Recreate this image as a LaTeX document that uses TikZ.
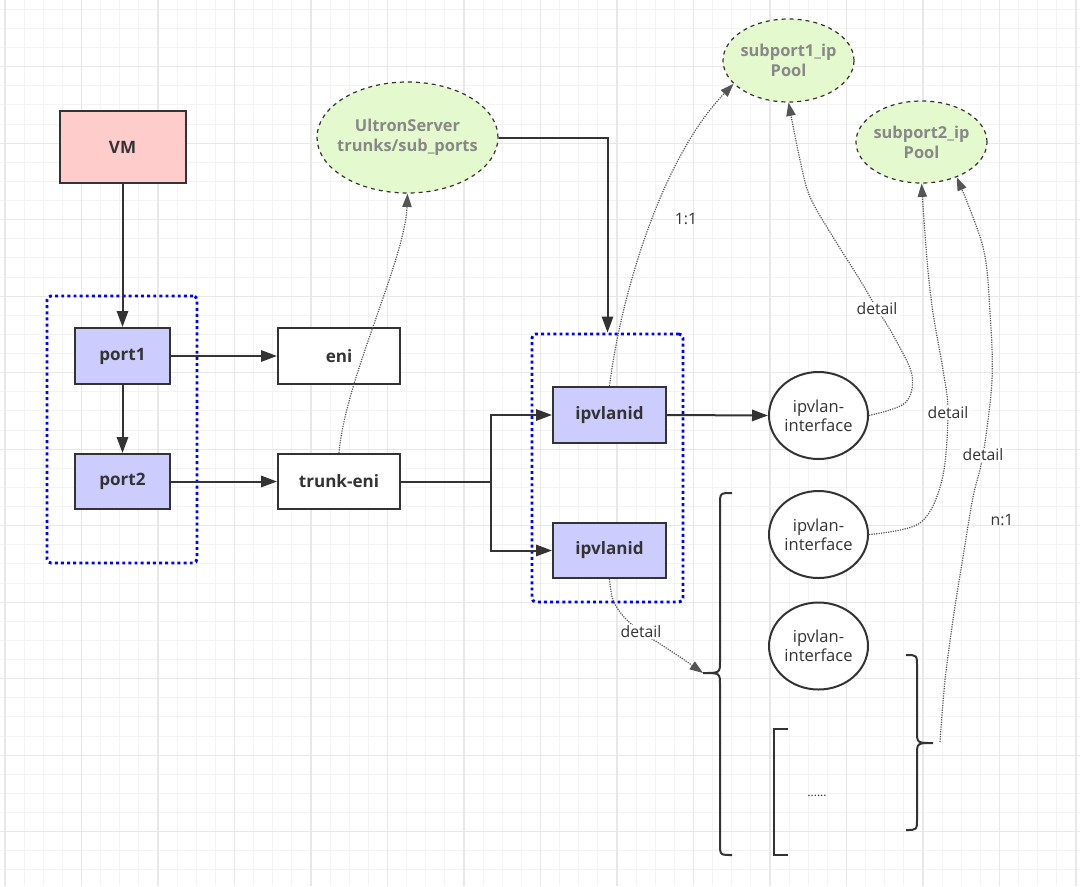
\documentclass[tikz,border=0pt]{standalone}
\usepackage{fontspec}
\setmainfont{Open Sans}
\usetikzlibrary{arrows.meta,shapes.geometric}
\definecolor{dark}{HTML}{333333}
\definecolor{vmpink}{HTML}{FFCCCC}
\definecolor{portblue}{HTML}{CCCCFF}
\definecolor{poolgreen}{HTML}{E4F9CE}
\definecolor{poolgray}{HTML}{888888}
\definecolor{gridminor}{HTML}{F3F3F3}
\definecolor{gridmajor}{HTML}{E8E8E8}
\definecolor{dotgray}{HTML}{555555}
\tikzset{
  box/.style={draw=dark, line width=1.5pt, text=dark, inner sep=0pt,
    font=\fontsize{12.8}{15}\selectfont\bfseries},
  pool/.style={ellipse, draw=dark, dashed, line width=0.9pt, fill=poolgreen, inner sep=0pt},
  pooltext/.style={text=poolgray, align=center, font=\fontsize{12.3}{15}\selectfont\bfseries},
  iface/.style={ellipse, draw=dark, line width=1.5pt, fill=white, inner sep=0pt,
    minimum width=74.25pt, minimum height=65.25pt},
  ifacetext/.style={text=dark, align=center, font=\fontsize{12.4}{14.5}\selectfont},
  group/.style={draw=blue, line width=2.2pt, dash pattern=on 2.2pt off 2.4pt,
    rounded corners=3pt, inner sep=0pt},
  conn/.style={draw=dark, line width=1.5pt, -{Triangle[length=12pt,width=8.5pt]}},
  dotc/.style={draw=dotgray, line width=0.9pt, dash pattern=on 0.9pt off 0.9pt,
    -{Triangle[length=10pt,width=7pt]}},
  lbl/.style={fill=white, text=dark, inner sep=1pt, font=\fontsize{11.8}{13}\selectfont},
  txt/.style={text=dark, inner sep=1pt, font=\fontsize{11.8}{13}\selectfont},
  brace/.style={draw=dark, line width=1.5pt},
}
\begin{document}
\begin{tikzpicture}[x=0.75pt,y=-0.75pt]
\useasboundingbox (0,0) rectangle (1080,886);
\fill[white] (0,0) rectangle (1080,886);
% grid
\foreach \i in {0,...,57} \draw[gridminor, line width=0.75pt] ({-14.125+19.125*\i},0) -- ++(0,886);
\foreach \j in {0,...,47} \draw[gridminor, line width=0.75pt] (0,{-9.8+19.125*\j}) -- ++(1080,0);
\foreach \i in {0,...,14} \draw[gridmajor, line width=0.9pt] ({5+76.5*\i},0) -- ++(0,886);
\foreach \j in {1,...,11} \draw[gridmajor, line width=0.9pt] (0,{-9.8+76.5*\j}) -- ++(1080,0);

% groups
\node[group, minimum width=112.5pt, minimum height=200.25pt] (g1) at (122,429.5) {};
\node[group, minimum width=113.25pt, minimum height=201pt] (g2) at (607.5,468) {};

% boxes
\node[box, fill=vmpink, minimum width=94.5pt, minimum height=54pt] (vm) at (122.5,147) {VM};
\node[box, fill=portblue, minimum width=71.25pt, minimum height=42pt] (p1) at (122.5,356) {port1};
\node[box, fill=portblue, minimum width=71.25pt, minimum height=41.25pt] (p2) at (122.5,481.5) {port2};
\node[box, fill=white, minimum width=91.5pt, minimum height=42pt] (eni) at (339,356) {eni};
\node[box, fill=white, minimum width=91.5pt, minimum height=41.25pt] (te) at (339,481.5) {trunk-eni};
\node[box, fill=portblue, minimum width=84.75pt, minimum height=42pt] (ipv1) at (609.5,415) {ipvlanid};
\node[box, fill=portblue, minimum width=84.75pt, minimum height=41.25pt] (ipv2) at (609.5,550.5) {ipvlanid};

% pools
\node[pool, minimum width=135.75pt, minimum height=83.25pt,
  label={[pooltext]center:{UltronServer\\trunks/sub\_ports}}] (us) at (407.5,137.5) {};
\node[pool, minimum width=98.25pt, minimum height=62.25pt,
  label={[pooltext]center:{subport1\_ip\\Pool}}] (sp1) at (788.5,60.5) {};
\node[pool, minimum width=98.25pt, minimum height=61.5pt,
  label={[pooltext]center:{subport2\_ip\\Pool}}] (sp2) at (921.5,142) {};

% interfaces
\node[iface, label={[ifacetext]center:{ipvlan-\\interface}}] (if1) at (818.5,415.5) {};
\node[iface, label={[ifacetext]center:{ipvlan-\\interface}}] (if2) at (818.5,534.5) {};
\node[iface, label={[ifacetext]center:{ipvlan-\\interface}}] (if3) at (818.5,646) {};

% braces and bracket
\coordinate (b1tip) at (703,673);
\coordinate (b2tip) at (933,743);
\draw[brace] (732,493) .. controls (720,493) .. (720,505) -- (720,661)
  .. controls (720,673) .. (b1tip) .. controls (720,673) .. (720,685) -- (720,843)
  .. controls (720,855) .. (732,855);
\draw[brace] (906,655) .. controls (917,655) .. (917,667) -- (917,731)
  .. controls (917,743) .. (b2tip) .. controls (917,743) .. (917,755) -- (917,818)
  .. controls (917,830) .. (906,830);
\draw[brace] (788,729) -- (774,729) -- (774,855) -- (788,855);
\node[text=dark, inner sep=0pt, font=\fontsize{9}{10}\selectfont] (more) at (817,796) {......};

% solid connectors
\coordinate (split) at (491,481.5);
\draw[conn] (vm.south) -- (p1.north);
\draw[conn] (p1.south) -- (p2.north);
\draw[conn] (p1.east) -- (eni.west);
\draw[conn] (p2.east) -- (te.west);
\draw[conn] (te.east) -- (split) |- (ipv1.west);
\draw[conn] (split) |- (ipv2.west);
\draw[conn] (us.east) -| (g2.north);
\draw[conn] (ipv1.east) -- (if1.west);

% dotted connectors
\coordinate (d1c) at (877,309);
\coordinate (d2c) at (948,413);
\coordinate (d3c) at (983,455);
\coordinate (d4c) at (641,632);
\draw[dotc] (te.north) .. controls (345,380) and (405,260) .. (us.south);
\draw[dotc] (ipv1.north) .. controls (620,300) and (660,160) .. (sp1.203);
\draw[dotc] plot[smooth, tension=0.55] coordinates {(if1.east) (905,403) (912,375) (893,335) (d1c) (860,280) (833,237) (810,197) (800,160) (sp1.south)};
\draw[dotc] plot[smooth, tension=0.55] coordinates {(if2.east) (920,523) (942,480) (d2c) (943,370) (933,313) (927,260) (sp2.south)};
\draw[dotc] plot[smooth, tension=0.55] coordinates {(940,742) (945,680) (954,613) (963,557) (973,497) (d3c) (992,380) (990,313) (983,247) (sp2.-45)};
\draw[dotc] plot[smooth, tension=0.55] coordinates {(ipv2.south) (613,600) (624,617) (d4c) (657,642) (680,657) (b1tip)};

% labels
\node[lbl] (d1) at (d1c) {detail};
\node[lbl] (d2) at (d2c) {detail};
\node[lbl] (d3) at (d3c) {detail};
\node[lbl] (d4) at (d4c) {detail};
\node[txt] (r11) at (686,219) {1:1};
\node[txt] (rn1) at (1002,520) {n:1};
\end{tikzpicture}
\end{document}
